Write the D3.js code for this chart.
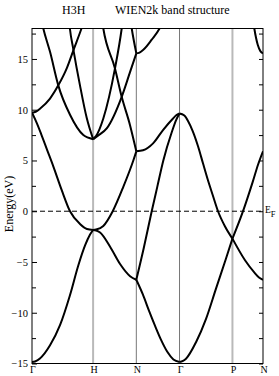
<!DOCTYPE html>
<html>
<head>
<meta charset="utf-8">
<script src="https://cdn.jsdelivr.net/npm/d3@7"></script>
<style>
  html, body { margin: 0; padding: 0; background: #fff; }
  svg { display: block; }
  text { font-family: "Liberation Serif", "DejaVu Serif", serif; fill: #000; }
</style>
</head>
<body>
<svg id="chart" width="279" height="376"></svg>
<script>
// ---- data (k in 2π/a path units, E in eV) ----
const kLabels = ["Γ", "H", "N", "Γ", "P", "N"];
const kPoints = [0, 1, 1.7071, 2.4142, 3.2802, 3.7802];
const yMajorTicks = [-15, -10, -5, 0, 5, 10, 15];
const yMinorTicks = [-12.5, -7.5, -2.5, 2.5, 7.5, 12.5, 17.5];
const titleLeft = "H3H";
const titleRight = "WIEN2k band structure";
const yTitle = "Energy(eV)";

// Γ–H
const bandsGH = [
  [[0,-14.85],[0.05,-14.8],[0.13,-14.5],[0.295,-13.2],[0.46,-11.2],[0.62,-8.3],[0.76,-5.3],[0.87,-3.35],[0.95,-2.3],[1,-1.85]],
  [[0,9.7],[0.077,8.7],[0.15,7.6],[0.25,6.0],[0.35,4.4],[0.485,2.1],[0.622,0],[0.785,-1.25],[0.9,-1.75],[1,-1.85]],
  [[0,9.7],[0.06,9.8],[0.13,10.1],[0.295,11.1],[0.43,12.4],[0.57,14.1],[0.68,15.9],[0.81,18.0],[0.9,19.6]],
  [[0.12,19.8],[0.185,18.0],[0.295,15.7],[0.43,12.4],[0.622,9.5],[0.84,7.5],[1,7.1]],
  [[0.6,19.2],[0.62,18.0],[0.675,16.0],[0.785,12.4],[0.895,9.2],[1,7.1]]
];
// H–N
const bandsHN = [
  [[1,-1.85],[1.05,-1.9],[1.114,-2.1],[1.278,-3.5],[1.441,-5.2],[1.605,-6.4],[1.7071,-6.75]],
  [[1,-1.85],[1.05,-1.8],[1.167,-1.45],[1.321,0],[1.494,2.4],[1.658,5.0],[1.7071,5.9]],
  [[1.13,19.5],[1.167,18.0],[1.358,14.07],[1.468,11.27],[1.604,8.48],[1.7071,5.9]],
  [[1,7.1],[1.047,7.4],[1.167,9.14],[1.358,14.07],[1.468,18.0],[1.5,19.5]],
  [[1,7.1],[1.08,7.45],[1.223,8.16],[1.468,11.27],[1.604,13.7],[1.7071,15.55]],
  [[1.6,19.3],[1.632,18.0],[1.7071,15.55]]
];
// N–Γ
const bandsNG = [
  [[1.7071,15.55],[1.75,15.6],[1.822,15.9],[1.959,16.9],[2.087,18.0],[2.15,18.8]],
  [[1.7071,5.9],[1.817,6.0],[1.981,6.68],[2.144,8.0],[2.308,9.14],[2.36,9.45],[2.4142,9.63]],
  [[1.7071,-6.75],[1.83,-3.6],[1.959,0],[2.05,2.4],[2.149,5.0],[2.288,7.8],[2.36,9.0],[2.4142,9.63]],
  [[1.7071,-6.75],[1.814,-8.2],[1.914,-9.8],[2.014,-11.3],[2.114,-12.7],[2.214,-13.85],[2.314,-14.6],[2.4142,-14.85]]
];
// Γ–P
const bandsGP = [
  [[2.4142,9.63],[2.488,9.45],[2.553,8.9],[2.63,7.9],[2.717,6.4],[2.799,4.7],[2.872,3.2],[2.957,1.6],[3.044,0],[3.159,-1.5],[3.2802,-2.7]],
  [[2.4142,-14.85],[2.471,-14.75],[2.52,-14.53],[2.684,-12.9],[2.848,-10.6],[3.011,-7.62],[3.175,-4.66],[3.2802,-2.7]]
];
// P–N
const bandsPN = [
  [[3.2802,-2.7],[3.486,-4.83],[3.634,-6.0],[3.72,-6.55],[3.7802,-6.75]],
  [[3.2802,-2.7],[3.449,-0.07],[3.612,2.89],[3.70,4.6],[3.7802,5.9]],
  [[3.60,19.6],[3.638,18.0],[3.694,16.4],[3.74,15.75],[3.7802,15.55]]
];

// ---- drawing ----
const svg = d3.select("#chart");
const L = 32, R = 263, T = 28.5, B = 363.5;
const x = d3.scaleLinear().domain([0, 3.7802]).range([L, R]);
const y = d3.scaleLinear().domain([-15, 18]).range([B, T]);

svg.append("defs").append("clipPath").attr("id", "plotclip")
  .append("rect").attr("x", L).attr("y", T).attr("width", R - L).attr("height", B - T);

// vertical symmetry lines
const vStyles = [null, {c: "#b9b9b9", w: 2}, {c: "#777", w: 1}, {c: "#777", w: 1}, {c: "#b9b9b9", w: 2}, null];
kPoints.forEach((k, i) => {
  const s = vStyles[i];
  if (!s) return;
  svg.append("line")
    .attr("x1", x(k)).attr("x2", x(k)).attr("y1", T).attr("y2", B)
    .attr("stroke", s.c).attr("stroke-width", s.w);
});

// Fermi level
svg.append("line")
  .attr("x1", L).attr("x2", R).attr("y1", y(0)).attr("y2", y(0))
  .attr("stroke", "#000").attr("stroke-width", 1).attr("stroke-dasharray", "5,3");

// bands
const line = d3.line().x(d => x(d[0])).y(d => y(d[1])).curve(d3.curveMonotoneX);
const gBands = svg.append("g").attr("clip-path", "url(#plotclip)");
[bandsGH, bandsHN, bandsNG, bandsGP, bandsPN].forEach(seg => {
  seg.forEach(band => {
    gBands.append("path").attr("d", line(band))
      .attr("fill", "none").attr("stroke", "#000").attr("stroke-width", 2)
      .attr("stroke-linejoin", "round");
  });
});

// axes
const axL = svg.append("g").attr("transform", `translate(${L},0)`)
  .call(d3.axisLeft(y).tickValues(yMajorTicks).tickSize(-5).tickPadding(4).tickFormat(d3.format("d")));
axL.select(".domain").remove();
axL.selectAll("text").style("font-size", "10.5px").style("font-family", '"Liberation Serif", serif');
const axLm = svg.append("g").attr("transform", `translate(${L},0)`)
  .call(d3.axisLeft(y).tickValues(yMinorTicks).tickSize(-4).tickFormat(""));
axLm.select(".domain").remove();
const axR = svg.append("g").attr("transform", `translate(${R},0)`)
  .call(d3.axisRight(y).tickValues(yMajorTicks.concat(yMinorTicks)).tickSize(-4).tickFormat(""));
axR.select(".domain").remove();

const axB = svg.append("g").attr("transform", `translate(0,${B})`)
  .call(d3.axisBottom(x).tickValues(kPoints).tickSize(0).tickFormat((d, i) => kLabels[i]));
axB.select(".domain").remove();
axB.selectAll("text").attr("y", 9).attr("dy", null).attr("dx", "0.5")
  .style("font-size", "10px").style("font-family", '"Liberation Serif", serif');

// frame
svg.append("rect").attr("x", L).attr("y", T).attr("width", R - L).attr("height", B - T)
  .attr("fill", "none").attr("stroke", "#000").attr("stroke-width", 1);

// titles
svg.append("text").attr("x", 62).attr("y", 14).style("font-size", "12px").text(titleLeft);
svg.append("text").attr("x", 115).attr("y", 14).style("font-size", "12px").text(titleRight);
svg.append("text").attr("transform", `translate(13,${(T + B) / 2 + 8}) rotate(-90)`)
  .attr("text-anchor", "middle").style("font-size", "12px").text(yTitle);

// E_F label
const ef = svg.append("text").attr("x", 265).attr("y", y(0) + 2).style("font-size", "9.5px");
ef.append("tspan").text("E");
ef.append("tspan").attr("dy", 4).style("font-size", "8.5px").text("F");
</script>
</body>
</html>
